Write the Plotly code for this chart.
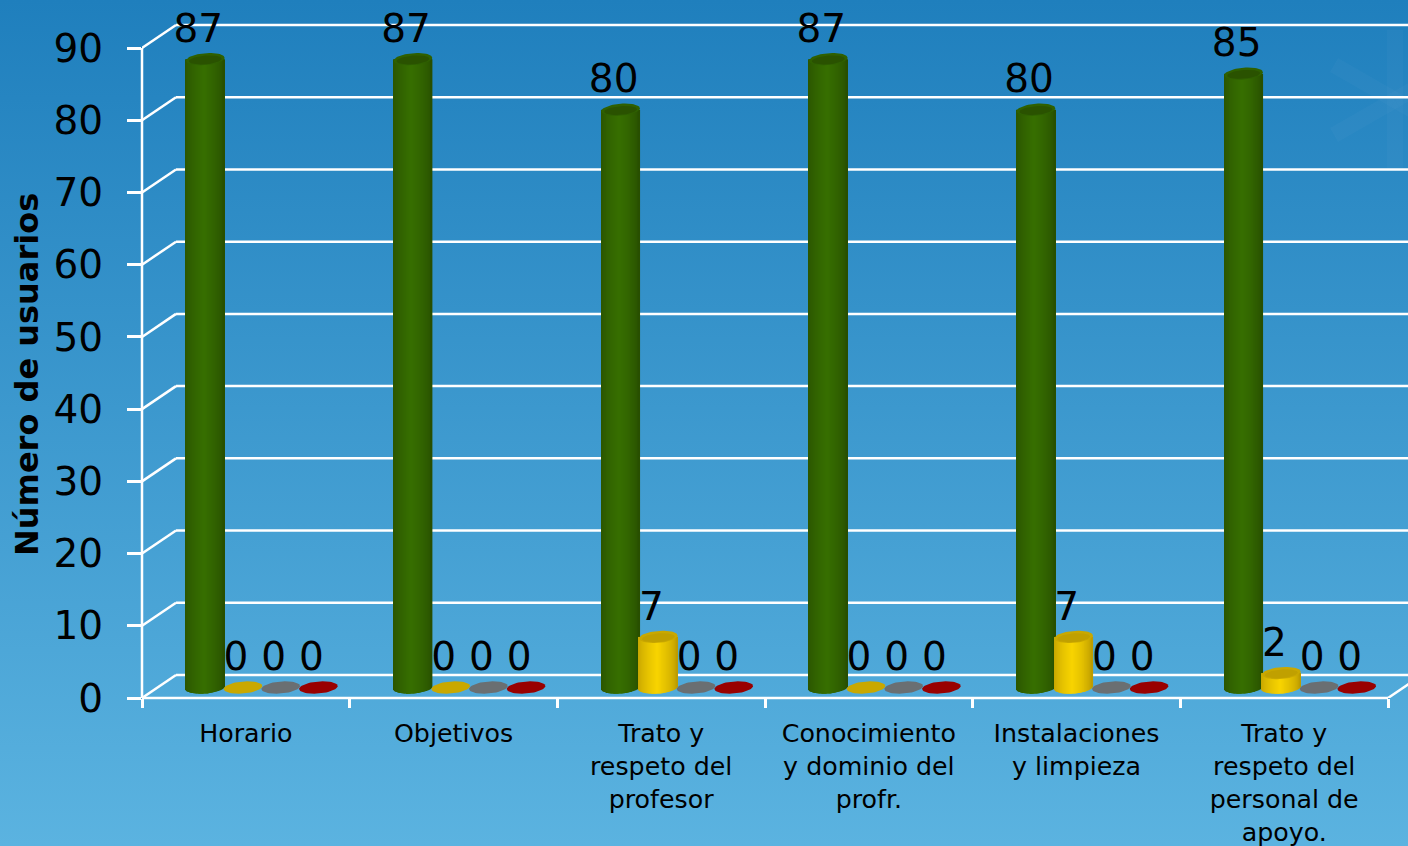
import base64
import numpy as np
import plotly.graph_objects as go

categories = ["Horario", "Objetivos", "Trato y<br>respeto del<br>profesor",
              "Conocimiento<br>y dominio del<br>profr.", "Instalaciones<br>y limpieza",
              "Trato y<br>respeto del<br>personal de<br>apoyo."]
series_green = [87, 87, 80, 87, 80, 85]
series_yellow = [0, 0, 7, 0, 7, 2]
series_gray = [0, 0, 0, 0, 0, 0]
series_red = [0, 0, 0, 0, 0, 0]
y_ticks = [0, 10, 20, 30, 40, 50, 60, 70, 80, 90]

W, H = 1408, 846
LEFT, BOTTOM = 142, 698
CAT_PX = 207.67
UNIT_PX = 7.222
px = lambda p: p / CAT_PX          # horizontal pixels -> x units
py = lambda p: p / UNIT_PX         # vertical pixels -> y units

styles = [
    (series_green, "#284f00", "#376f00", "#2f6000", "#2a5200"),
    (series_yellow, "#bd9c00", "#f8d400", "#c9a800", "#c0a000"),
    (series_gray, "#555", "#777", "#6a6f72", "#63696c"),
    (series_red, "#700", "#a00", "#990000", "#920000"),
]
cat_idx = np.arange(len(categories))
first_bar = px(205.3 - LEFT)
step = px(37.7)
base_y = py(10.5)
half_w = 19.3
ry = 6.0
tilt = 0.075


def lerp_hex(a, b, t):
    def parse(c):
        c = c.lstrip("#")
        if len(c) == 3:
            c = "".join(ch * 2 for ch in c)
        return np.array([int(c[i:i + 2], 16) for i in (0, 2, 4)], float)
    v = parse(a) + (parse(b) - parse(a)) * t
    return "rgb(%d,%d,%d)" % tuple(v)


fig = go.Figure()

# cylinder bodies
u_strips = np.linspace(-0.97, 0.97, 40)
for s, (values, dark, light, top_edge, top_mid) in enumerate(styles):
    xs, bases, heights, cols, widths = [], [], [], [], []
    for i, v in zip(cat_idx, values):
        if v <= 0:
            continue
        cx = i + first_bar + s * step
        for u in u_strips:
            low = py(ry * np.sqrt(max(0, 1 - u * u)) - tilt * half_w * u)
            xs.append(cx + px(half_w * u))
            bases.append(base_y - low)
            heights.append(v + low)
            shade = max(0.0, 1 - abs(u + 0.05)) ** 0.6
            cols.append(lerp_hex(dark, light, shade))
            widths.append(px(1.4))
    if xs:
        fig.add_trace(go.Bar(x=xs, y=heights, base=bases, width=widths,
                             marker=dict(color=cols, line=dict(width=0)),
                             showlegend=False, hoverinfo="skip"))

# cylinder caps
t = np.linspace(0, 2 * np.pi, 61)
for s, (values, dark, light, top_edge, top_mid) in enumerate(styles):
    for i, v in zip(cat_idx, values):
        cx = i + first_bar + s * step
        cy = v + base_y
        ex = cx + px(half_w) * np.cos(t)
        ey = cy + py(ry) * np.sin(t) + py(tilt * half_w) * np.cos(t)
        fig.add_trace(go.Scatter(x=ex, y=ey, mode="lines", fill="toself",
                                 fillcolor=top_edge, line=dict(width=0),
                                 showlegend=False, hoverinfo="skip"))
        if v > 0:
            ex2 = cx + px(half_w * 0.85) * np.cos(t)
            ey2 = cy + py(ry * 0.72) * np.sin(t) - py(ry * 0.12) + py(tilt * half_w * 0.85) * np.cos(t)
            fig.add_trace(go.Scatter(x=ex2, y=ey2, mode="lines", fill="toself",
                                     fillcolor=top_mid, line=dict(width=0),
                                     showlegend=False, hoverinfo="skip"))

# value labels
for s, (values, *_rest) in enumerate(styles):
    fig.add_trace(go.Scatter(
        x=[i + first_bar + s * step - px(7) for i in cat_idx],
        y=[v + base_y + py(27) for v in values],
        text=[str(v) for v in values], mode="text", textposition="middle center",
        textfont=dict(family="DejaVu Sans", size=39, color="black"),
        showlegend=False, hoverinfo="skip", cliponaxis=False))

# 3-D walls: back grid lines, side diagonals, floor, front axis
dx, dy = px(34), py(23)
x_end = (W - LEFT) / CAT_PX
white = dict(color="white", width=2.5)
shapes = []
for tick in y_ticks:
    shapes.append(dict(type="line", xref="x", yref="y", x0=0, y0=tick, x1=dx, y1=tick + dy,
                       line=white, layer="below"))
    shapes.append(dict(type="line", xref="x", yref="y", x0=dx, y0=tick + dy, x1=x_end, y1=tick + dy,
                       line=white, layer="below"))
# the two front axis lines lie on the plot edge: paper refs keep them unclipped
shapes.append(dict(type="line", xref="paper", yref="y", x0=0, y0=0, x1=0, y1=y_ticks[-1],
                   line=white, layer="below"))
n = len(categories)
shapes.append(dict(type="line", xref="x", yref="paper", x0=0, y0=0, x1=n, y1=0,
                   line=white, layer="below"))
shapes.append(dict(type="line", xref="x", yref="y", x0=n, y0=0, x1=n + dx, y1=dy,
                   line=white, layer="below"))

# gradient background with the faint snowflake watermark
flake = "".join(
    f'<line x1="1395" y1="100" x2="{1395 + 70 * np.cos(a):.0f}" y2="{100 + 70 * np.sin(a):.0f}"/>'
    for a in np.arange(0, 2 * np.pi, np.pi / 3) + np.pi / 6
)
svg = f'''<svg xmlns="http://www.w3.org/2000/svg" width="{W}" height="{H}">
<defs><linearGradient id="g" x1="0" y1="0" x2="0" y2="1">
<stop offset="0" stop-color="#1f7fbd"/><stop offset="1" stop-color="#5bb3e0"/>
</linearGradient></defs>
<rect width="{W}" height="{H}" fill="url(#g)"/>
<g stroke="#ffffff" stroke-opacity="0.025" stroke-width="16">{flake}</g>
</svg>'''
src = "data:image/svg+xml;base64," + base64.b64encode(svg.encode()).decode()
plot_w, plot_h = W - LEFT, BOTTOM

fig.update_layout(
    width=W, height=H, margin=dict(l=LEFT, r=0, t=0, b=H - BOTTOM, pad=0, autoexpand=False),
    barmode="overlay", showlegend=False,
    paper_bgcolor="#3f9bd2", plot_bgcolor="rgba(0,0,0,0)",
    font=dict(family="DejaVu Sans", color="black"),
    shapes=shapes,
    images=[dict(source=src, xref="paper", yref="paper", x=-LEFT / plot_w, y=1,
                 sizex=W / plot_w, sizey=H / plot_h, xanchor="left", yanchor="top",
                 sizing="stretch", layer="below")],
    xaxis=dict(range=[0, x_end], tickmode="array", tickvals=cat_idx + 0.5, ticktext=categories,
               ticks="outside", ticklen=1, tickcolor="rgba(0,0,0,0)", showgrid=False, zeroline=False, showline=False,
               tickangle=0, tickfont=dict(family="DejaVu Sans", size=25.3, color="black"),
               ticklabelstandoff=12,
               minor=dict(tickmode="linear", tick0=0, dtick=1, ticks="outside", ticklen=9,
                          tickcolor="white", tickwidth=2.5, showgrid=False)),
    yaxis=dict(range=[0, BOTTOM / UNIT_PX], tickmode="array", tickvals=y_ticks,
               ticks="outside", ticklen=14, tickcolor="white", tickwidth=2.5,
               showgrid=False, zeroline=False, showline=False,
               tickfont=dict(family="DejaVu Sans", size=39, color="black"),
               ticklabelstandoff=16),
    annotations=[dict(text="<b>Número de usuarios</b>", xref="paper", yref="paper",
                      x=-(LEFT - 27) / plot_w, y=(BOTTOM - 375) / plot_h, textangle=-90,
                      showarrow=False, xanchor="center", yanchor="middle",
                      font=dict(family="DejaVu Sans", size=32, color="black"))],
)

fig.write_html("out.html", config=dict(displayModeBar=False),
               post_script="document.body.style.margin='0';")
